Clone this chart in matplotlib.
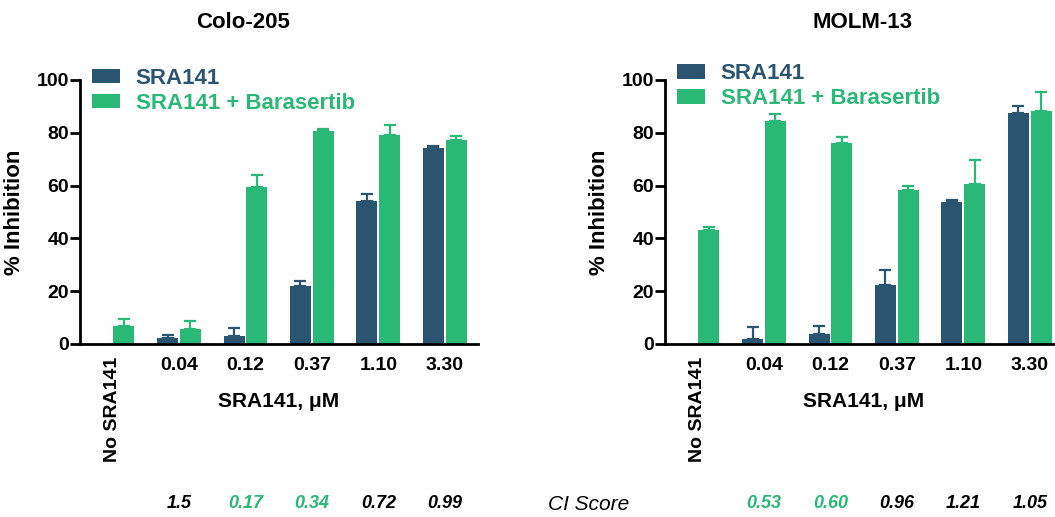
import numpy as np
import matplotlib
matplotlib.use('Agg')
from matplotlib import pyplot as plt
from matplotlib.transforms import blended_transform_factory

plt.rcParams['font.family'] = ['Liberation Sans', 'DejaVu Sans']

DARK = '#2b5470'
GREEN = '#2ab877'

groups = ['No SRA141', '0.04', '0.12', '0.37', '1.10', '3.30']

# Colo-205: mean % inhibition and upper SD
colo_sra = [np.nan, 2.3, 3.2, 21.9, 54.2, 74.4]
colo_sra_err = [np.nan, 1.1, 3.0, 1.8, 2.5, 0.6]
colo_combo = [6.7, 5.7, 59.5, 80.6, 79.3, 77.2]
colo_combo_err = [2.9, 3.0, 4.4, 0.9, 3.5, 1.4]
colo_ci = ['1.5', '0.17', '0.34', '0.72', '0.99']

# MOLM-13
molm_sra = [np.nan, 2.0, 3.9, 22.2, 53.6, 87.6]
molm_sra_err = [np.nan, 4.3, 2.9, 5.9, 0.9, 2.4]
molm_combo = [43.3, 84.4, 76.3, 58.3, 60.5, 88.3]
molm_combo_err = [1.0, 2.7, 2.1, 1.6, 9.2, 7.0]
molm_ci = ['0.53', '0.60', '0.96', '1.21', '1.05']

# CI < 0.7 marked as synergistic
SYNERGY_CUTOFF = 0.7

W, H = 1055, 517
fig = plt.figure(figsize=(W / 100, H / 100), dpi=100)


def px_rect(x0, x1, ytop, ybot):
    return [x0 / W, 1 - ybot / H, (x1 - x0) / W, (ybot - ytop) / H]


def draw_panel(ax, sra, sra_err, combo, combo_err, ci, legend_y):
    x = np.arange(len(groups))
    bw = 0.316
    off = 0.172
    sra = np.array(sra)
    combo = np.array(combo)
    ax.bar(x - off, sra, bw, color=DARK, label='SRA141', zorder=2)
    ax.bar(x + off, combo, bw, color=GREEN, label='SRA141 + Barasertib', zorder=2)
    ekw = dict(fmt='none', capsize=4, elinewidth=1.6, capthick=1.6,
               zorder=1, clip_on=False)
    ax.errorbar(x - off, sra, yerr=[np.zeros(len(x)), sra_err],
                ecolor=DARK, **ekw)
    ax.errorbar(x + off, combo, yerr=[np.zeros(len(x)), combo_err],
                ecolor=GREEN, **ekw)

    ax.set_xlim(-0.49, 5.5)
    ax.set_ylim(0, 100)
    ax.set_yticks([0, 20, 40, 60, 80, 100])
    ax.set_xticks(x)
    ax.set_xticklabels(groups)
    for lbl in ax.get_xticklabels()[:1]:
        lbl.set_rotation(90)
        lbl.set_va('top')
        lbl.set_fontsize(15.5)
    ax.tick_params(axis='x', length=0, pad=9, labelsize=14)
    ax.tick_params(axis='y', length=7, width=2, pad=1, labelsize=14)
    for t in ax.get_xticklabels() + ax.get_yticklabels():
        t.set_fontweight('bold')
    for s in ['top', 'right']:
        ax.spines[s].set_visible(False)
    for s in ['left', 'bottom']:
        ax.spines[s].set_linewidth(2)
    ax.set_ylabel('% Inhibition', fontsize=16, fontweight='bold', labelpad=8)
    ax.set_xlabel('SRA141, \u03bcM', fontsize=15, fontweight='bold')
    ax.xaxis.set_label_coords(0.5, -0.18)

    ax.legend(loc='upper left', bbox_to_anchor=(0.03, legend_y),
              frameon=False, borderpad=0, borderaxespad=0,
              handlelength=1.27, handleheight=0.6, handletextpad=0.7,
              labelspacing=0.18, prop=dict(size=16, weight='bold'),
              labelcolor=[DARK, GREEN])

    trans = blended_transform_factory(ax.transData, fig.transFigure)
    for xi, val in zip(x[1:], ci):
        col = GREEN if float(val) < SYNERGY_CUTOFF else 'black'
        fig.text(xi, 1 - 504 / H, val, transform=trans, ha='center',
                 va='center', fontsize=13, style='italic', fontweight='bold',
                 color=col)


ax1 = fig.add_axes(px_rect(80, 478, 80, 344))
draw_panel(ax1, colo_sra, colo_sra_err, colo_combo, colo_combo_err,
           colo_ci, 1.046)
ax2 = fig.add_axes(px_rect(665, 1063, 80, 344))
draw_panel(ax2, molm_sra, molm_sra_err, molm_combo, molm_combo_err,
           molm_ci, 1.063)

fig.text(243 / W, 1 - 22 / H, 'Colo-205', ha='center', va='center',
         fontsize=16, fontweight='bold')
fig.text(862 / W, 1 - 22 / H, 'MOLM-13', ha='center', va='center',
         fontsize=16, fontweight='bold')
fig.text(589 / W, 1 - 504 / H, 'CI Score', ha='center', va='center',
         fontsize=15, style='italic')

fig.savefig('out.png', dpi=100)
